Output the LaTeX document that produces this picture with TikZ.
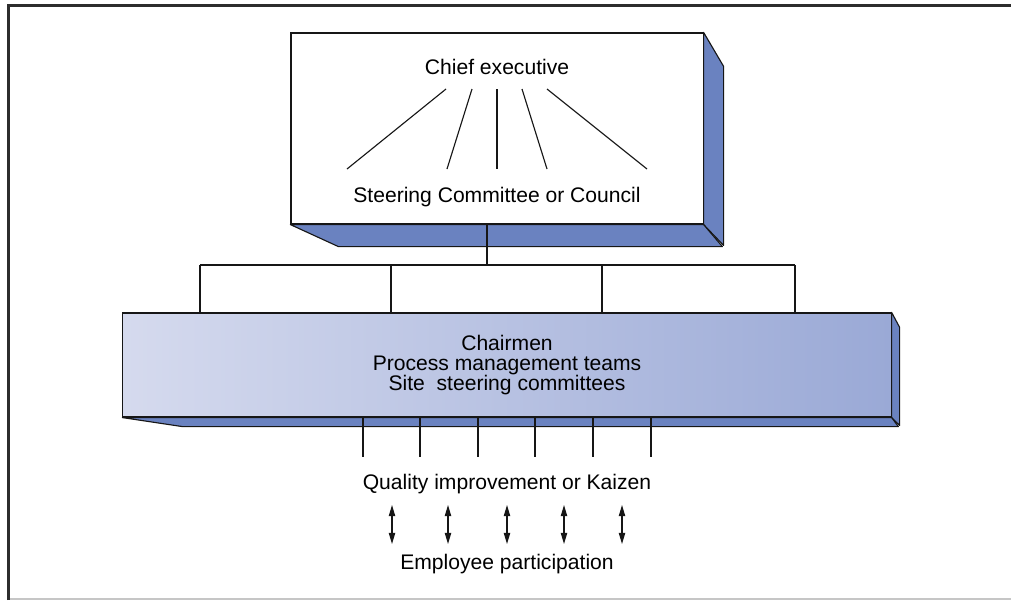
\documentclass[tikz,border=0pt]{standalone}
\usepackage{fontspec}
\setmainfont{Liberation Sans}
\usetikzlibrary{calc,arrows.meta,positioning}
\definecolor{slab}{HTML}{6A82C0}
\definecolor{lilac}{HTML}{D5DAEE}
\definecolor{haze}{HTML}{C7CCE8}
\definecolor{periwinkle}{HTML}{9AA9D6}
\definecolor{ink}{HTML}{161616}

\begin{document}
\begin{tikzpicture}[x=0.025cm,y=-0.025cm,
 lbl/.style={font=\fontsize{15}{14.2}\selectfont,inner sep=0pt,align=center},
 edge/.style={ink,line width=.8pt},
 side/.style={fill=slab,draw=ink,line width=.8pt,line join=round},
 updown/.style={ink,line width=.8pt,{Triangle[length=2.8mm,width=1.6mm]}-{Triangle[length=2.8mm,width=1.6mm]}}]
\useasboundingbox (0,0) rectangle (1011,600);
\draw[gray!45,line width=1pt] (8,599)--(1011,599);
\draw[ink!90,line width=2.1pt] (8.5,600)--(8.5,5.5)--(1011,5.5);
% top box with its shadow faces
\node[draw=ink,fill=white,line width=.8pt,minimum width=10.3cm,minimum height=4.775cm,inner sep=0pt] (ceo) at (497,128.5) {};
\draw[side] (ceo.north east)--++(20,34)--++(0,179)--(ceo.south east)--cycle;
\draw[side] (ceo.south west)--++(48,22)--++(384,0)--(ceo.south east)--cycle;
\node[lbl,anchor=base] (chief) at (497,74) {Chief executive};
\node[lbl,anchor=base] (council) at (497,202) {Steering Committee or Council};
\foreach \a/\b [count=\i] in {446/347,472/447,497/497,522/547,547/647}{\coordinate (u\i) at (\a,89); \coordinate (d\i) at (\b,169); \draw[edge] (u\i)--(d\i);}
% tree down to the teams
\node[draw=ink,line width=.8pt,left color=lilac,middle color=haze,right color=periwinkle,minimum width=19.2cm,minimum height=2.6cm,inner sep=0pt] (teams) at (507,365) {};
\draw[side] (teams.north east)--++(8,15)--++(0,98)--(teams.south east)--cycle;
\draw[side] (teams.south west)--++(60,9)--++(716,0)--(teams.south east)--cycle;
\node[lbl] (chairs) at (507,365.5) {Chairmen\\Process management teams\\Site\ \ steering committees};
\coordinate (hub) at (487,265);
\draw[edge] (ceo.south -| hub)--(hub);
\foreach \x [count=\i] in {200,391,602,795}{\coordinate (t\i) at (\x,265); \draw[edge] (t\i)--(t\i |- teams.north);}
\draw[edge] (t1)--(t4);
\foreach \x [count=\i] in {363,420,478,535,593,651}{\coordinate (k\i) at (\x,457); \draw[edge] (k\i |- teams.south)--(k\i);}
% bottom labels
\node[lbl,anchor=base] (kaizen) at (507,489) {Quality improvement or Kaizen};
\node[lbl,anchor=base] (staff) at (507,569) {Employee participation};
\foreach \x [count=\i] in {392,448,507,564,622}{\coordinate (a\i) at (\x,505); \coordinate (b\i) at (\x,544); \draw[updown] (a\i)--(b\i);}
\end{tikzpicture}
\end{document}
